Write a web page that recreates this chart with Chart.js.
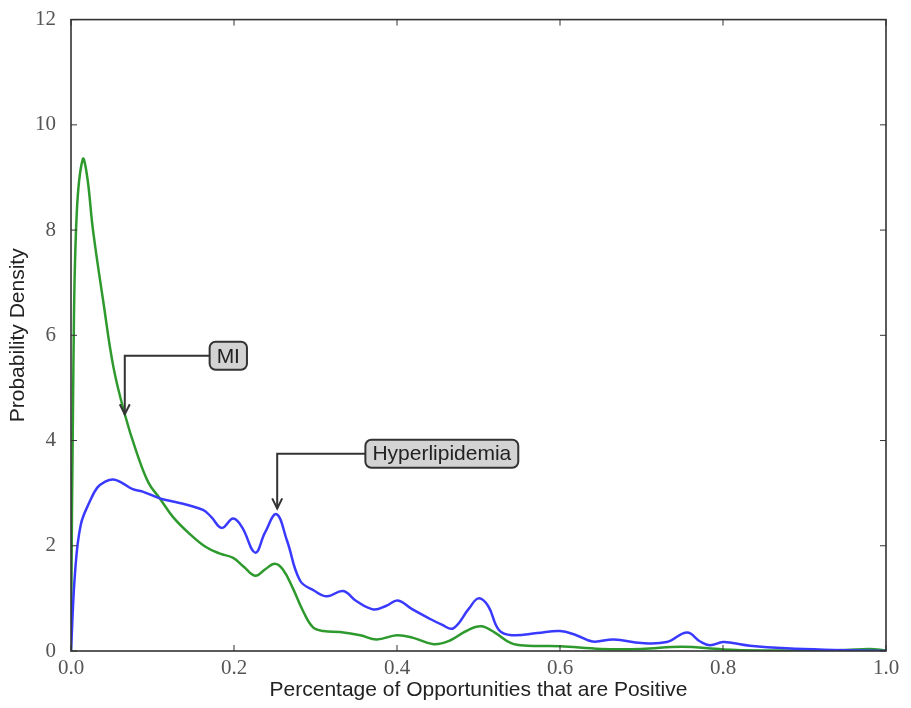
<!DOCTYPE html>
<html lang="en">
<head>
    <meta charset="UTF-8">
    <title>Probability Density</title>
    <script src="https://cdn.jsdelivr.net/npm/chart.js"></script>
    <style>
        body { margin: 0; background: #fff; }
    </style>
</head>
<body>
    <canvas id="densityChart" width="911" height="708"></canvas>

    <script>
        // MI density curve
        const miX = [0, 0.003, 0.007, 0.0145, 0.02, 0.027, 0.04, 0.052, 0.066, 0.08, 0.095, 0.109, 0.125, 0.146, 0.165, 0.183, 0.199, 0.212, 0.226, 0.238, 0.25, 0.26, 0.272, 0.285, 0.297, 0.31, 0.33, 0.355, 0.375, 0.4, 0.42, 0.445, 0.465, 0.485, 0.503, 0.52, 0.54, 0.56, 0.6, 0.65, 0.7, 0.75, 0.8, 0.85, 0.9, 0.95, 0.98, 1.0];
        const miY = [0, 5.5, 8.3, 9.35, 9.0, 8.0, 6.6, 5.4, 4.5, 3.8, 3.2, 2.9, 2.55, 2.22, 1.98, 1.85, 1.77, 1.6, 1.43, 1.55, 1.66, 1.55, 1.2, 0.75, 0.45, 0.38, 0.36, 0.3, 0.22, 0.3, 0.25, 0.13, 0.2, 0.38, 0.47, 0.35, 0.15, 0.1, 0.09, 0.04, 0.04, 0.08, 0.03, 0.01, 0.01, 0.02, 0.04, 0.01];

        // Hyperlipidemia density curve
        const hypX = [0, 0.005, 0.012, 0.023, 0.032, 0.042, 0.052, 0.062, 0.075, 0.088, 0.109, 0.125, 0.142, 0.162, 0.172, 0.185, 0.199, 0.21, 0.226, 0.238, 0.252, 0.265, 0.281, 0.298, 0.314, 0.334, 0.35, 0.371, 0.387, 0.401, 0.418, 0.437, 0.455, 0.469, 0.488, 0.5, 0.512, 0.525, 0.541, 0.572, 0.6, 0.62, 0.64, 0.666, 0.7, 0.731, 0.756, 0.772, 0.784, 0.8, 0.812, 0.833, 0.878, 0.935, 1.0];
        const hypY = [0, 1.5, 2.4, 2.84, 3.1, 3.22, 3.26, 3.2, 3.08, 3.03, 2.9, 2.84, 2.78, 2.68, 2.55, 2.34, 2.52, 2.35, 1.87, 2.25, 2.6, 2.1, 1.34, 1.15, 1.04, 1.14, 0.95, 0.79, 0.86, 0.96, 0.8, 0.64, 0.5, 0.43, 0.8, 1.0, 0.85, 0.4, 0.3, 0.34, 0.38, 0.3, 0.18, 0.22, 0.15, 0.17, 0.35, 0.18, 0.11, 0.17, 0.15, 0.1, 0.05, 0.02, 0];

        const xTicks = [0, 0.2, 0.4, 0.6, 0.8, 1.0];
        const yTicks = [0, 2, 4, 6, 8, 10, 12];

        // callouts: arrow tip and label centre, in data units
        const callouts = [
            { text: 'MI', tip: [0.066, 4.5], label: [0.193, 5.61] },
            { text: 'Hyperlipidemia', tip: [0.253, 2.71], label: [0.455, 3.75] }
        ];

        function toPoints(xs, ys) {
            return xs.map((x, i) => ({ x: x, y: ys[i] }));
        }

        const frameAndCallouts = {
            id: 'frameAndCallouts',
            afterDraw(chart) {
                const ctx = chart.ctx;
                const a = chart.chartArea;
                const xs = chart.scales.x, ys = chart.scales.y;

                // axes box with inward ticks on every side
                ctx.save();
                ctx.strokeStyle = '#333';
                ctx.lineWidth = 1.6;
                ctx.strokeRect(a.left, a.top, a.right - a.left, a.bottom - a.top);
                ctx.lineWidth = 1;
                ctx.beginPath();
                xTicks.forEach(v => {
                    const px = xs.getPixelForValue(v);
                    ctx.moveTo(px, a.bottom); ctx.lineTo(px, a.bottom - 6);
                    ctx.moveTo(px, a.top); ctx.lineTo(px, a.top + 6);
                });
                yTicks.forEach(v => {
                    const py = ys.getPixelForValue(v);
                    ctx.moveTo(a.left, py); ctx.lineTo(a.left + 6, py);
                    ctx.moveTo(a.right, py); ctx.lineTo(a.right - 6, py);
                });
                ctx.stroke();

                // labelled arrows
                ctx.font = '21px "Liberation Sans", Arial, sans-serif';
                ctx.textBaseline = 'middle';
                ctx.textAlign = 'center';
                callouts.forEach(c => {
                    const tx = xs.getPixelForValue(c.tip[0]);
                    const ty = ys.getPixelForValue(c.tip[1]);
                    const lx = xs.getPixelForValue(c.label[0]);
                    const ly = ys.getPixelForValue(c.label[1]);
                    const w = ctx.measureText(c.text).width + 14;
                    const h = 28;
                    const bx = lx - w / 2, by = ly - h / 2;

                    ctx.strokeStyle = '#333';
                    ctx.lineWidth = 2;
                    ctx.beginPath();
                    ctx.moveTo(bx, ly);
                    ctx.lineTo(tx, ly);
                    ctx.lineTo(tx, ty);
                    ctx.stroke();
                    ctx.beginPath();
                    ctx.moveTo(tx - 5, ty - 10);
                    ctx.lineTo(tx, ty);
                    ctx.lineTo(tx + 5, ty - 10);
                    ctx.stroke();

                    ctx.fillStyle = '#d3d3d3';
                    ctx.beginPath();
                    ctx.roundRect(bx, by, w, h, 6);
                    ctx.fill();
                    ctx.stroke();
                    ctx.fillStyle = '#222';
                    ctx.fillText(c.text, lx, ly + 1);
                });
                ctx.restore();
            }
        };

        const ctx = document.getElementById('densityChart').getContext('2d');
        const chart = new Chart(ctx, {
            type: 'line',
            data: {
                datasets: [
                    {
                        label: 'Hyperlipidemia',
                        data: toPoints(hypX, hypY),
                        borderColor: '#3a3aff',
                        borderWidth: 2.5,
                        pointRadius: 0,
                        tension: 0.4,
                        fill: false
                    },
                    {
                        label: 'MI',
                        data: toPoints(miX, miY),
                        borderColor: '#2e9a2e',
                        borderWidth: 2.5,
                        pointRadius: 0,
                        tension: 0.4,
                        fill: false
                    }
                ]
            },
            options: {
                responsive: false,
                animation: false,
                layout: { padding: { top: 14, right: 25, bottom: 0, left: 0 } },
                plugins: {
                    legend: { display: false },
                    tooltip: { enabled: false }
                },
                scales: {
                    x: {
                        type: 'linear',
                        min: 0,
                        max: 1,
                        afterBuildTicks: s => { s.ticks = xTicks.map(v => ({ value: v })); },
                        afterFit: s => { s.height = 57; },
                        grid: { display: false },
                        border: { display: false },
                        ticks: {
                            padding: -3,
                            color: '#555',
                            font: { family: '"Liberation Serif", serif', size: 21 },
                            callback: v => v.toFixed(1)
                        },
                        title: {
                            display: true,
                            text: 'Percentage of Opportunities that are Positive',
                            color: '#222',
                            font: { family: '"Liberation Sans", Arial, sans-serif', size: 21 },
                            padding: { top: 0, bottom: 5 }
                        }
                    },
                    y: {
                        min: 0,
                        max: 12,
                        afterBuildTicks: s => { s.ticks = yTicks.map(v => ({ value: v })); },
                        afterFit: s => { s.width = 71; },
                        grid: { display: false },
                        border: { display: false },
                        ticks: {
                            padding: 7,
                            color: '#555',
                            font: { family: '"Liberation Serif", serif', size: 21 }
                        },
                        title: {
                            display: true,
                            text: 'Probability Density',
                            color: '#222',
                            font: { family: '"Liberation Sans", Arial, sans-serif', size: 21 },
                            padding: { top: 6, bottom: 0 }
                        }
                    }
                }
            },
            plugins: [frameAndCallouts]
        });
    </script>
</body>
</html>
